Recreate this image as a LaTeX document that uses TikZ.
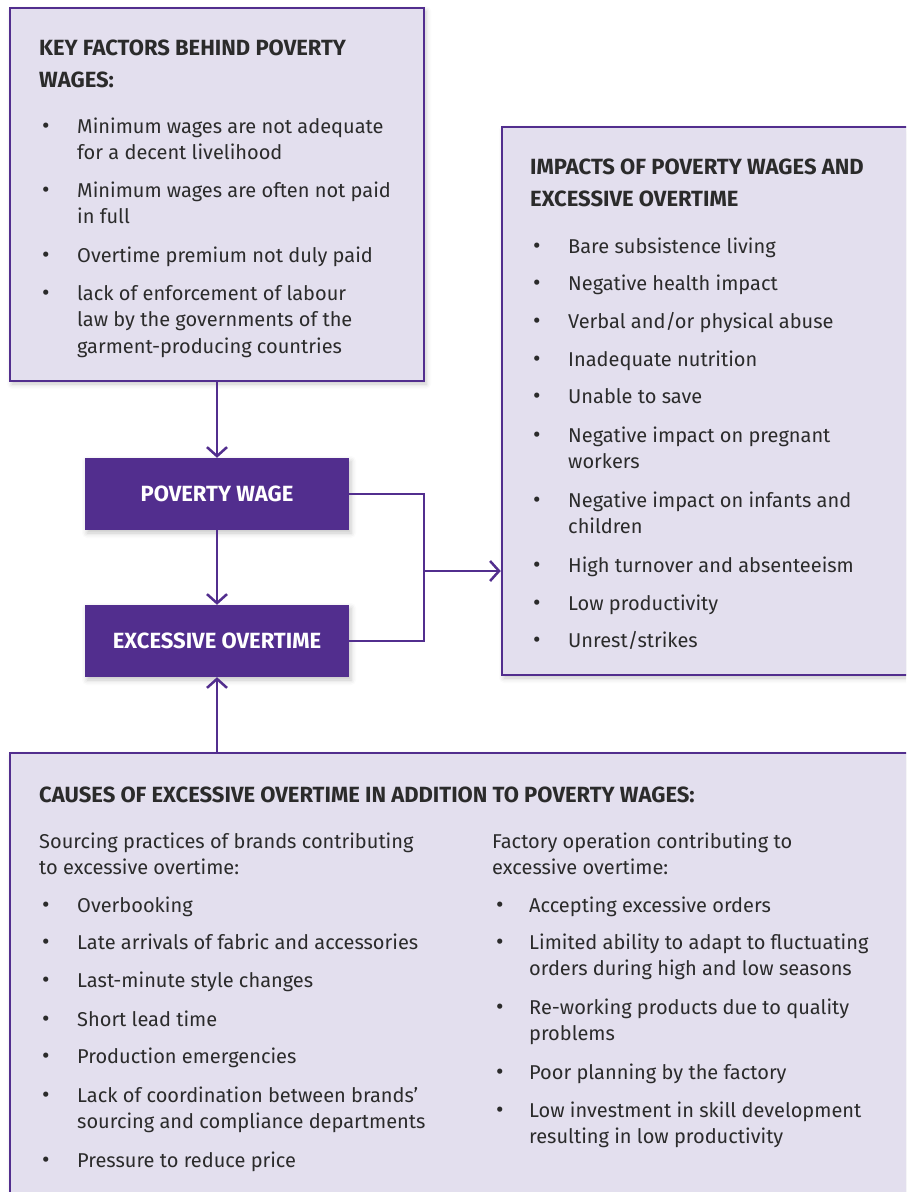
\documentclass[tikz,border=0pt]{standalone}
\usepackage{fontspec}
\setmainfont{Fira Sans}
\usetikzlibrary{arrows.meta,shadows.blur}
\definecolor{purp}{HTML}{522E8E}
\definecolor{lite}{HTML}{E3DFEE}
\definecolor{txt}{HTML}{2B2B2B}
\newcommand{\bodyf}{\fontsize{20}{26.5}\selectfont}
\newcommand{\headf}{\fontsize{22}{32}\selectfont\bfseries}
\newcommand{\bul}[1][35pt]{\makebox[#1][l]{\fontsize{23}{23}\selectfont •}}
\begin{document}
\begin{tikzpicture}[x=1pt,y=-1pt,
  shd/.style={blur shadow={shadow xshift=2pt,shadow yshift=-3pt,shadow blur radius=5pt,shadow opacity=22}},
  lbox/.style={draw=purp,fill=lite,line width=2.5pt,inner sep=0pt,shd},
  dbox/.style={fill=purp,inner sep=0pt,minimum width=264pt,minimum height=72pt,text=white,
    font=\fontsize{22}{26}\selectfont\bfseries,shd},
  conn/.style={draw=purp,line width=2.5pt},
  arr/.style={-{Straight Barb[length=9pt,width=20pt]}},
  ttl/.style={anchor=base west,inner sep=0pt,text=txt,font=\headf},
  itm/.style={anchor=base west,inner sep=0pt,text=txt,font=\bodyf}]
\useasboundingbox (0,0) rectangle (906,1192);
\clip (0,0) rectangle (906,1192);

% boxes
\node[lbox,minimum width=414pt,minimum height=373pt] (kf) at (217,194.5) {};
\node[lbox,minimum width=418pt,minimum height=548pt] (im) at (711,401) {};
\node[lbox,minimum width=910pt,minimum height=458pt] (cb) at (465,982) {};
\node[dbox] (pw) at (217,494) {POVERTY WAGE};
\node[dbox] (eo) at (217,641) {EXCESSIVE OVERTIME};

% connectors
\coordinate (jn) at (424,571);
\draw[conn,arr] (kf.south) -- (pw.north);
\draw[conn,arr] (pw.south) -- (eo.north);
\draw[conn,arr] (cb.north -| eo.south) -- (eo.south);
\draw[conn] (pw.east) -| (jn) |- (eo.east);
\draw[conn,arr] (jn) -- (jn -| im.west);

% key factors
\node[ttl] (kft) at (39,55) {\parbox[t]{380pt}{KEY FACTORS BEHIND POVERTY\\WAGES:}};
\node[itm] (k1) at (42,133) {\bul\parbox[t]{340pt}{Minimum wages are not adequate\\for a decent livelihood}};
\node[itm] (k2) at (42,197) {\bul\parbox[t]{340pt}{Minimum wages are often not paid\\in full}};
\node[itm] (k3) at (42,262) {\bul Overtime premium not duly paid};
\node[itm] (k4) at (42,300) {\bul\parbox[t]{340pt}{lack of enforcement of labour\\law by the governments of the\\garment-producing countries}};

% impacts
\node[ttl] (imt) at (530,174) {\parbox[t]{370pt}{IMPACTS OF POVERTY WAGES AND\\EXCESSIVE OVERTIME}};
\node[itm] (i1) at (533,253) {\bul Bare subsistence living};
\node[itm] (i2) at (533,290) {\bul Negative health impact};
\node[itm] (i3) at (533,328) {\bul Verbal and/or physical abuse};
\node[itm] (i4) at (533,366) {\bul Inadequate nutrition};
\node[itm] (i5) at (533,403) {\bul Unable to save};
\node[itm] (i6) at (533,442) {\bul\parbox[t]{330pt}{Negative impact on pregnant\\workers}};
\node[itm] (i7) at (533,507) {\bul\parbox[t]{330pt}{Negative impact on infants and\\children}};
\node[itm] (i8) at (533,572) {\bul High turnover and absenteeism};
\node[itm] (i9) at (533,610) {\bul Low productivity};
\node[itm] (i10) at (533,647) {\bul Unrest/strikes};

% causes
\node[ttl] (cbt) at (39,802) {CAUSES OF EXCESSIVE OVERTIME IN ADDITION TO POVERTY WAGES:};
\node[itm] (s0) at (39,848) {\parbox[t]{420pt}{Sourcing practices of brands contributing\\to excessive overtime:}};
\node[itm] (s1) at (42,912) {\bul Overbooking};
\node[itm] (s2) at (42,949) {\bul Late arrivals of fabric and accessories};
\node[itm] (s3) at (42,987) {\bul Last-minute style changes};
\node[itm] (s4) at (42,1026) {\bul Short lead time};
\node[itm] (s5) at (42,1063) {\bul Production emergencies};
\node[itm] (s6) at (42,1102) {\bul\parbox[t]{380pt}{Lack of coordination between brands’\\sourcing and compliance departments}};
\node[itm] (s7) at (42,1167) {\bul Pressure to reduce price};

\node[itm] (f0) at (492,848) {\parbox[t]{400pt}{Factory operation contributing to\\excessive overtime:}};
\node[itm] (f1) at (496,912) {\bul[33pt]Accepting excessive orders};
\node[itm] (f2) at (496,949) {\bul[33pt]\parbox[t]{380pt}{Limited ability to adapt to fluctuating\\orders during high and low seasons}};
\node[itm] (f3) at (496,1014) {\bul[33pt]\parbox[t]{380pt}{Re-working products due to quality\\problems}};
\node[itm] (f4) at (496,1079) {\bul[33pt]Poor planning by the factory};
\node[itm] (f5) at (496,1117) {\bul[33pt]\parbox[t]{380pt}{Low investment in skill development\\resulting in low productivity}};
\end{tikzpicture}
\end{document}
